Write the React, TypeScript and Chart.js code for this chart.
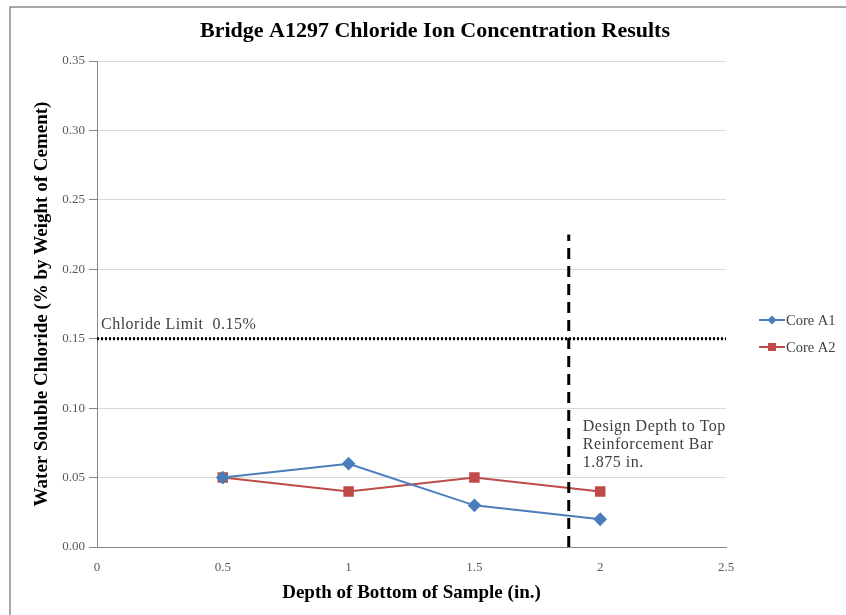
import React, { useEffect, useRef } from "react";
import { Chart, registerables } from "chart.js";

Chart.register(...registerables);

const chartTitle = "Bridge A1297 Chloride Ion Concentration Results";
const xAxisTitle = "Depth of Bottom of Sample (in.)";
const yAxisTitle = "Water Soluble Chloride (% by Weight of Cement)";

const depths = [0.5, 1, 1.5, 2];
const coreA1 = [0.05, 0.06, 0.03, 0.02];
const coreA2 = [0.05, 0.04, 0.05, 0.04];
const seriesNames = ["Core A1", "Core A2"];

const chlorideLimit = 0.15;
const limitLabel = "Chloride Limit  0.15%";
const limitXRange = [0, 2.5];

const designDepth = 1.875;
const designYRange = [0, 0.225];
const designLabel = ["Design Depth to Top", "Reinforcement Bar", "1.875 in."];

const xMin = 0, xMax = 2.5, xStep = 0.5;
const yMin = 0, yMax = 0.35, yStep = 0.05;

const SERIF = "'Liberation Serif', 'Times New Roman', serif";
const BLUE = "#4A7EBB";
const RED = "#BE4B48";

const decorPlugin = {
  id: "decor",
  beforeDraw(chart: any) {
    const ctx = chart.ctx;
    ctx.save();
    ctx.fillStyle = "#ffffff";
    ctx.fillRect(0, 0, chart.width, chart.height);
    ctx.strokeStyle = "#8a8a8a";
    ctx.lineWidth = 1.5;
    ctx.beginPath();
    ctx.moveTo(10, chart.height);
    ctx.lineTo(10, 7);
    ctx.lineTo(chart.width, 7);
    ctx.stroke();
    ctx.restore();
  },
  afterDraw(chart: any) {
    const ctx = chart.ctx;
    const xs = chart.scales.x;
    const ys = chart.scales.y;
    ctx.save();
    // title
    ctx.fillStyle = "#000000";
    ctx.font = `bold 22px ${SERIF}`;
    ctx.textAlign = "center";
    ctx.textBaseline = "middle";
    ctx.fillText(chartTitle, 435, 31);
    // limit label
    ctx.font = `16px ${SERIF}`;
    (ctx as any).letterSpacing = "0.5px";
    ctx.fillStyle = "#404040";
    ctx.textAlign = "left";
    ctx.fillText(limitLabel, xs.getPixelForValue(0) + 4, ys.getPixelForValue(chlorideLimit) - 14);
    // design label
    const dx = xs.getPixelForValue(designDepth) + 14;
    designLabel.forEach((t, i) => {
      ctx.fillText(t, dx, ys.getPixelForValue(0.1) + 19 + i * 18);
    });
    (ctx as any).letterSpacing = "0px";
    // legend
    const ds = chart.data.datasets;
    [0, 1].forEach((i) => {
      const d = ds[i];
      const cy = 320 + i * 27;
      ctx.strokeStyle = d.borderColor;
      ctx.lineWidth = 2;
      ctx.beginPath();
      ctx.moveTo(759, cy);
      ctx.lineTo(785, cy);
      ctx.stroke();
      ctx.fillStyle = d.pointBackgroundColor;
      ctx.beginPath();
      if (i === 0) {
        ctx.moveTo(772, cy - 4.5);
        ctx.lineTo(776.5, cy);
        ctx.lineTo(772, cy + 4.5);
        ctx.lineTo(767.5, cy);
        ctx.closePath();
      } else {
        ctx.rect(768, cy - 4, 8, 8);
      }
      ctx.fill();
      ctx.fillStyle = "#404040";
      ctx.font = `14.5px ${SERIF}`;
      ctx.textAlign = "left";
      ctx.textBaseline = "middle";
      ctx.fillText(seriesNames[i], 786, cy + 1);
    });
    ctx.restore();
  },
};

export default function App() {
  const ref = useRef<HTMLCanvasElement | null>(null);
  useEffect(() => {
    if (!ref.current) return;
    const chart = new Chart(ref.current, {
      type: "scatter",
      data: {
        datasets: [
          {
            label: seriesNames[0],
            data: depths.map((x, i) => ({ x, y: coreA1[i] })),
            showLine: true,
            borderColor: BLUE,
            backgroundColor: BLUE,
            pointBackgroundColor: BLUE,
            pointBorderColor: BLUE,
            borderWidth: 2,
            pointStyle: "rectRot",
            pointRadius: 5.5,
            order: 1,
          },
          {
            label: seriesNames[1],
            data: depths.map((x, i) => ({ x, y: coreA2[i] })),
            showLine: true,
            borderColor: RED,
            backgroundColor: RED,
            pointBackgroundColor: RED,
            pointBorderColor: RED,
            borderWidth: 2,
            pointStyle: "rect",
            pointRadius: 6,
            order: 2,
          },
          {
            label: "limit",
            data: limitXRange.map((x) => ({ x, y: chlorideLimit })),
            showLine: true,
            borderColor: "#000000",
            borderWidth: 3,
            borderDash: [2, 2],
            pointRadius: 0,
            order: 3,
          },
          {
            label: "design",
            data: designYRange.map((y) => ({ x: designDepth, y })),
            showLine: true,
            borderColor: "#000000",
            borderWidth: 3,
            borderDash: [11, 7],
            pointRadius: 0,
            order: 0,
          },
        ],
      },
      options: {
        animation: false,
        responsive: false,
        layout: { padding: { left: 10, right: 120, top: 61, bottom: 0 } },
        plugins: {
          legend: { display: false },
          title: { display: false },
          tooltip: { enabled: false },
        },
        scales: {
          x: {
            type: "linear",
            min: xMin,
            max: xMax,
            afterFit: (s: any) => { s.height = 68; },
            ticks: {
              stepSize: xStep,
              color: "#595959",
              font: { family: SERIF, size: 13 },
              padding: 13,
              callback: (v: any) => String(v),
            },
            grid: { display: true, drawOnChartArea: false, drawTicks: false },
            border: { display: true, color: "#868686", width: 1 },
            title: {
              display: true,
              text: xAxisTitle,
              color: "#000000",
              font: { family: SERIF, size: 19, weight: "bold" },
              padding: { top: 0, bottom: 10.6 },
            },
          },
          y: {
            type: "linear",
            min: yMin,
            max: yMax,
            afterFit: (s: any) => { s.width = 87; },
            ticks: {
              stepSize: yStep,
              color: "#595959",
              font: { family: SERIF, size: 13 },
              padding: 4,
              callback: (v: any) => Number(v).toFixed(2),
            },
            grid: { color: "#d9d9d9", tickLength: 8, tickColor: "#868686" },
            border: { display: true, color: "#868686", width: 1 },
            title: {
              display: true,
              text: yAxisTitle,
              color: "#000000",
              font: { family: SERIF, size: 19, weight: "bold" },
              padding: { top: 20.6, bottom: 0 },
            },
          },
        },
      },
      plugins: [decorPlugin],
    });
    return () => chart.destroy();
  }, []);
  return (
    <div style={{ position: "absolute", left: 0, top: 0, width: 846, height: 615 }}>
      <canvas ref={ref} width={846} height={615} />
    </div>
  );
}
